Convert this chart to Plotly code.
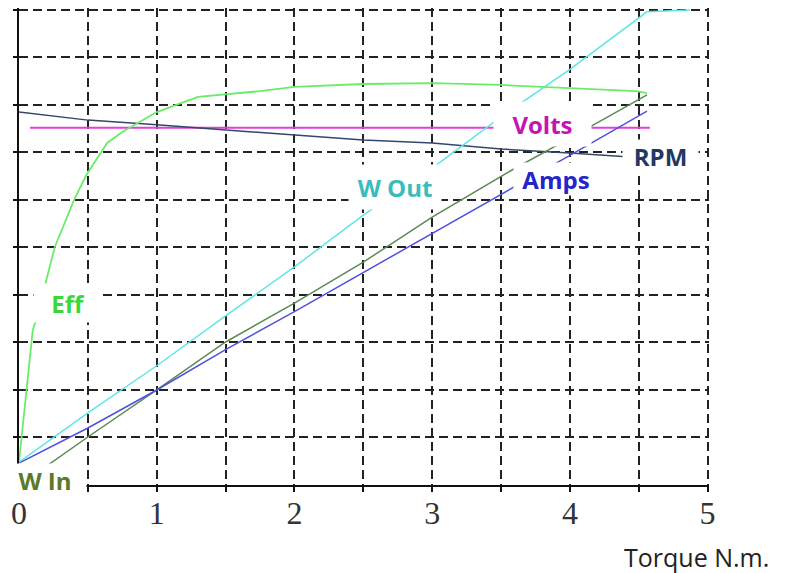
import plotly.graph_objects as go

# ---- data ----
x_ticks = [0, 1, 2, 3, 4, 5]
x_tick_labels = ["0", "1", "2", "3", "4", "5"]

eff_x = [0.0, 0.05, 0.10, 0.13, 0.20, 0.26, 0.40, 0.49, 0.64, 0.75, 1.0, 1.30, 1.75, 2.0, 2.5, 2.8, 3.0, 3.5, 3.83, 4.48, 4.56]
eff_y = [0.48, 1.8, 3.26, 3.54, 4.34, 5.01, 6.0, 6.53, 7.2, 7.43, 7.85, 8.17, 8.29, 8.38, 8.44, 8.46, 8.46, 8.42, 8.38, 8.29, 8.25]

wout_x = [0.0, 0.5, 1.0, 1.5, 2.0, 2.5, 3.0, 3.5, 4.0, 4.56, 4.87]
wout_y = [0.48, 1.52, 2.51, 3.56, 4.59, 5.68, 6.67, 7.75, 8.75, 9.96, 10.0]

amps_x = [0.0, 0.5, 1.0, 1.5, 2.0, 2.5, 3.0, 3.58, 4.0, 4.56]
amps_y = [0.46, 1.2, 2.0, 2.85, 3.65, 4.47, 5.3, 6.25, 6.94, 7.87]

win_x = [0.21, 0.5, 1.0, 1.5, 2.0, 2.5, 3.0, 3.58, 4.0, 4.56]
win_y = [0.42, 1.01, 2.0, 3.01, 3.83, 4.69, 5.64, 6.63, 7.3, 8.21]

volts_x = [0.08, 4.58]
volts_y = [7.52, 7.52]

rpm_x = [0.0, 0.5, 1.0, 1.5, 2.0, 2.5, 3.0, 3.5, 4.0, 4.6]
rpm_y = [7.85, 7.68, 7.58, 7.47, 7.37, 7.26, 7.2, 7.07, 6.99, 6.87]

# label name, x, y, text colour, box width, box height
labels = [
    ("Eff", 0.356, 3.83, "#39d839", 66, 36),
    ("W Out", 2.73, 6.27, "#3bbcbc", 90, 42),
    ("Volts", 3.80, 7.6, "#c414b4", 95, 42),
    ("RPM", 4.66, 6.93, "#1f3864", 73, 30),
    ("Amps", 3.90, 6.44, "#2424c8", 82, 30),
    ("W In", 0.19, 0.10, "#5a7a2a", 80, 30),
]

fig = go.Figure()

def add_line(x, y, color, width=1.5, shape="linear"):
    fig.add_trace(go.Scatter(x=x, y=y, mode="lines",
                             line=dict(color=color, width=width, shape=shape),
                             hoverinfo="skip", showlegend=False))

add_line(volts_x, volts_y, "#e040dc", 2)
add_line(rpm_x, rpm_y, "#34466a", 1.5)
add_line(win_x, win_y, "#5b8a55", 1.5)
add_line(amps_x, amps_y, "#5050e0", 1.5)
add_line(wout_x, wout_y, "#5ee6e6", 1.5)
add_line(eff_x, eff_y, "#6aec6a", 1.8)

for name, lx, ly, col, w, h in labels:
    fig.add_annotation(x=lx, y=ly, xref="x", yref="y", text="<b>%s</b>" % name,
                       showarrow=False, bgcolor="white", width=w, height=h,
                       font=dict(family="Open Sans", size=24, color=col),
                       xanchor="center", yanchor="middle")

fig.add_annotation(x=0.982, y=-0.151, xref="paper", yref="paper", text="Torque N.m.",
                   showarrow=False, font=dict(family="Open Sans", size=25, color="#222"),
                   xanchor="center", yanchor="middle")

grid_style = dict(showgrid=True, gridcolor="#222222", gridwidth=1.6, griddash="9px,5px")

fig.update_xaxes(range=[0, 5.01], tickvals=x_ticks, ticktext=x_tick_labels,
                 ticks="outside", ticklen=5, tickcolor="#111", tickwidth=1.5,
                 showline=True, linecolor="#111", linewidth=1.6,
                 zeroline=False, ticklabelstandoff=-6,
                 tickfont=dict(family="Liberation Serif", size=32, color="#333"),
                 minor=dict(dtick=0.5, ticks="outside", ticklen=5, tickcolor="#111",
                            showgrid=True, gridcolor="#222222", gridwidth=1.6, griddash="9px,5px"),
                 **grid_style)
fig.update_yaxes(range=[0, 10.04], dtick=1, showticklabels=False,
                 ticks="outside", ticklen=4, tickcolor="#111", tickwidth=1.5,
                 showline=True, linecolor="#111", linewidth=2,
                 zeroline=False, **grid_style)

fig.update_layout(width=786, height=573,
                  margin=dict(l=11, r=85, t=0, b=96),
                  paper_bgcolor="white", plot_bgcolor="white")

fig.write_html("out.html")
